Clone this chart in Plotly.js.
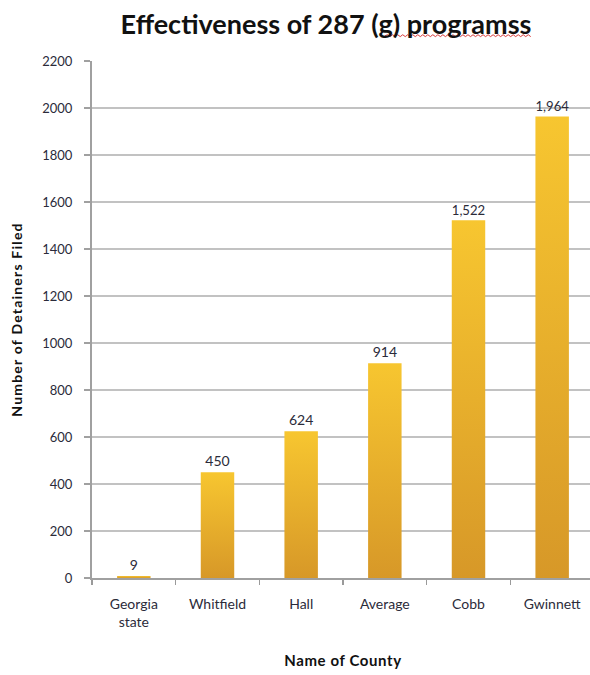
<!DOCTYPE html>
<html>
<head>
<meta charset="utf-8">
<script src="https://cdn.plot.ly/plotly-3.0.1.min.js"></script>
<style>
  html, body { margin: 0; padding: 0; background: #fff; overflow: hidden; }
  #chart { width: 596px; height: 675px; }
  #chart .g-ytitle text { letter-spacing: 1.2px; }
  #chart .g-xtitle text { letter-spacing: 0.6px; }
</style>
</head>
<body>
<div id="chart"></div>
<script>
// Detainers filed under 287(g) agreements, by county
const counties = ["Georgia<br>state", "Whitfield", "Hall", "Average", "Cobb", "Gwinnett"];
const detainers = [9, 450, 624, 914, 1522, 1964];
const yTicks = [0, 200, 400, 600, 800, 1000, 1200, 1400, 1600, 1800, 2000, 2200];

const FONT = "Lato, 'Open Sans', sans-serif";
const INK = "#2b2b3a";

// red spell-check squiggle under "programss"
function squiggle(x0, x1, y, amp, step) {
  let d = "M" + x0 + "," + y;
  let up = true;
  for (let x = x0 + step; x <= x1 + 1e-9; x += step) {
    d += " L" + x.toFixed(4) + "," + (y + (up ? amp : -amp)).toFixed(4);
    up = !up;
  }
  return d;
}

const trace = {
  type: "bar",
  x: counties,
  y: detainers,
  marker: { color: "#E8AE2C", line: { width: 0 } },
  texttemplate: "%{y:,}",
  textposition: "outside",
  textfont: { family: FONT, size: 14, color: INK },
  cliponaxis: false,
  hoverinfo: "skip"
};

const layout = {
  width: 596,
  height: 675,
  margin: { l: 92, r: 2, t: 61, b: 97 },
  paper_bgcolor: "#ffffff",
  plot_bgcolor: "#ffffff",
  showlegend: false,
  bargap: 0.6,
  title: {
    text: "<b>Effectiveness of 287 (<u>g</u>) programss</b>",
    font: { family: FONT, size: 27, color: "#111111" },
    x: 0.547, xanchor: "center",
    y: 0.963, yanchor: "middle"
  },
  xaxis: {
    type: "category",
    tickson: "boundaries",
    ticks: "outside",
    ticklen: 5,
    tickcolor: "#9a9a9a",
    tickwidth: 1.5,
    ticklabelstandoff: 12,
    showline: true,
    linecolor: "#a0a0a0",
    linewidth: 2,
    showgrid: false,
    tickfont: { family: FONT, size: 14, color: INK },
    title: { text: "<b>Name of County</b>", font: { family: FONT, size: 15, color: "#111111" }, standoff: 26 }
  },
  yaxis: {
    range: [0, 2200],
    tickvals: yTicks,
    ticktext: yTicks.map(String),
    ticks: "outside",
    ticklen: 6,
    tickcolor: "#a0a0a0",
    tickwidth: 1.5,
    ticklabelstandoff: 9,
    showline: true,
    linecolor: "#a0a0a0",
    linewidth: 2,
    showgrid: true,
    gridcolor: "#c2c2c2",
    gridwidth: 1.5,
    zeroline: false,
    tickfont: { family: FONT, size: 13, color: INK },
    title: { text: "<b>Number of Detainers Filed</b>", font: { family: FONT, size: 14, color: "#111111" }, standoff: 16 }
  },
  shapes: [{
    type: "path",
    xref: "paper", yref: "paper",
    path: squiggle(0.584, 0.878, 1.049, 0.0018, 0.005),
    line: { color: "#d83a3a", width: 1 }
  }]
};

Plotly.newPlot("chart", [trace], layout, { staticPlot: true, displayModeBar: false }).then(function (gd) {
  // vertical gold gradient on every bar
  const svg = gd.querySelector(".main-svg");
  const ns = "http://www.w3.org/2000/svg";
  let defs = svg.querySelector("defs");
  if (!defs) { defs = document.createElementNS(ns, "defs"); svg.insertBefore(defs, svg.firstChild); }
  const grad = document.createElementNS(ns, "linearGradient");
  grad.setAttribute("id", "barGold");
  grad.setAttribute("x1", "0"); grad.setAttribute("y1", "0");
  grad.setAttribute("x2", "0"); grad.setAttribute("y2", "1");
  [["0", "#F7C630"], ["1", "#D79828"]].forEach(function (s) {
    const st = document.createElementNS(ns, "stop");
    st.setAttribute("offset", s[0]);
    st.setAttribute("stop-color", s[1]);
    grad.appendChild(st);
  });
  defs.appendChild(grad);
  gd.querySelectorAll(".bars .point path").forEach(function (p) {
    p.style.fill = "url(#barGold)";
  });
});
</script>
</body>
</html>
